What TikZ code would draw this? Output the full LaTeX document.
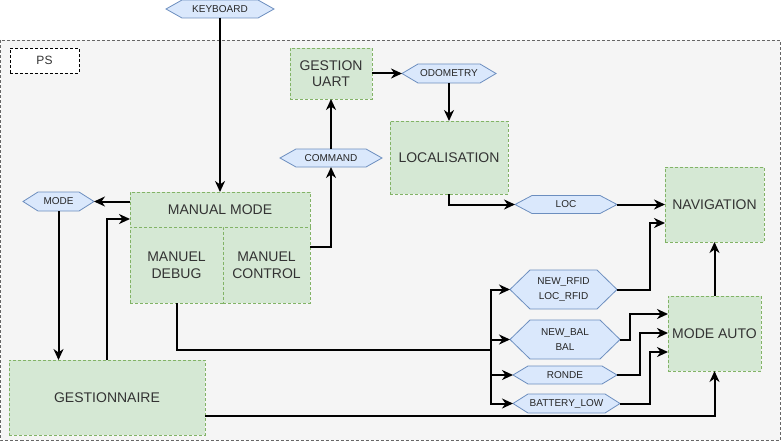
\documentclass[tikz,border=0pt]{standalone}
\usepackage{fontspec}
\setmainfont{Liberation Sans}
\usetikzlibrary{arrows.meta}
\definecolor{gfill}{HTML}{D5E8D4}
\definecolor{gdraw}{HTML}{82B366}
\definecolor{bfill}{HTML}{DAE8FC}
\definecolor{bdraw}{HTML}{6C8EBF}
\definecolor{cfill}{HTML}{F5F5F5}
\definecolor{cdraw}{HTML}{666666}
\definecolor{txt}{HTML}{333333}
\tikzset{
  container/.style={fill=cfill,draw=cdraw,line width=0.8pt,dash pattern=on 3pt off 2pt},
  pslabel/.style={draw=black,fill=white,line width=0.8pt,dash pattern=on 3pt off 2pt,inner sep=0pt,outer sep=0pt,font=\fontsize{12}{14}\selectfont,text=txt},
  gbox/.style={fill=gfill,draw=gdraw,line width=0.8pt,dash pattern=on 3pt off 2pt,inner sep=0pt,outer sep=0pt,align=center,font=\fontsize{14}{16.5}\selectfont,text=txt},
  hexshape/.style={fill=bfill,draw=bdraw,line width=0.8pt},
  hextext/.style={inner sep=0pt,outer sep=0pt,align=center,font=\fontsize{10}{15}\selectfont,text=black!85},
  arr/.style={line width=2pt,-{Stealth[length=11pt,width=10pt,inset=3.5pt]}},
}
\newcommand{\hexnode}[7]{%
  \path[hexshape] ({#2-#4/2},#3) -- ({#2-#4/2+#6},{#3-#5/2}) -- ({#2+#4/2-#6},{#3-#5/2})
    -- ({#2+#4/2},#3) -- ({#2+#4/2-#6},{#3+#5/2}) -- ({#2-#4/2+#6},{#3+#5/2}) -- cycle;
  \node[hextext,minimum width=#4,minimum height=#5] (#1) at (#2,#3) {#7};}
\begin{document}
\begin{tikzpicture}[x=1pt,y=-1pt]
\useasboundingbox (0,0) rectangle (781,441);
% container
\path[container] (0.5,40) rectangle (780,440);
\node[pslabel,minimum width=69,minimum height=25] (ps) at (44.5,60.5) {PS};
% green boxes
\node[gbox,minimum width=82,minimum height=51] (uart) at (331,73.5) {GESTION\\UART};
\node[gbox,minimum width=118,minimum height=73] (loc) at (449,157.5) {LOCALISATION};
\node[gbox,minimum width=99,minimum height=75] (nav) at (714.5,204.5) {NAVIGATION};
\node[gbox,minimum width=180,minimum height=35] (mm) at (220,209.5) {MANUAL MODE};
\node[gbox,minimum width=93,minimum height=76] (debug) at (176.5,265) {MANUEL\\DEBUG};
\node[gbox,minimum width=87,minimum height=76] (control) at (266.5,265) {MANUEL\\CONTROL};
\node[gbox,minimum width=196,minimum height=75] (gest) at (107,397.5) {GESTIONNAIRE};
\node[gbox,minimum width=93,minimum height=75] (auto) at (714.5,333.5) {MODE AUTO};
% hexagons
\hexnode{kb}{220}{9}{108}{18}{16}{KEYBOARD}
\hexnode{cmd}{331}{158}{102}{18}{16}{COMMAND}
\hexnode{odo}{449}{73.5}{94}{19}{16}{ODOMETRY}
\hexnode{mode}{58.5}{201.5}{71}{19}{15}{MODE}
\hexnode{lochex}{566}{204.5}{102}{18}{17}{LOC}
\hexnode{rfid}{563.5}{289.5}{107}{39}{20}{NEW\_RFID\\LOC\_RFID}
\hexnode{bal}{565}{339.5}{110}{39}{20}{NEW\_BAL\\BAL}
\hexnode{ronde}{565}{375}{104}{18}{15}{RONDE}
\hexnode{batt}{566.5}{403.5}{107}{19}{15}{BATTERY\_LOW}
% junction points
\coordinate (bus) at (491,350);
% connectors
\draw[arr] (kb.south) -- (mm.north);
\draw[arr] (mm.west |- mode.east) -- (mode.east);
\draw[arr] (mode.south) -- (mode.south |- gest.north);
\draw[arr] (gest.north) |- (mm.west |- 0,219);
\draw[arr] (control.east |- 0,247) -| (cmd.south);
\draw[arr] (cmd.north) -- (uart.south);
\draw[arr] (uart.east) -- (odo.west);
\draw[arr] (odo.south) -- (loc.north);
\draw[arr] (loc.south) |- (lochex.west);
\draw[arr] (lochex.east) -- (nav.west |- lochex.east);
\draw[arr] (debug.south) |- (bus) |- (rfid.west);
\draw[arr] (debug.south) |- (bus) |- (bal.west);
\draw[arr] (debug.south) |- (bus) |- (ronde.west);
\draw[arr] (debug.south) |- (bus) |- (batt.west);
\draw[arr] (rfid.east) -| (650,223) -- (nav.west |- 0,223);
\draw[arr] (bal.east) -| (630,314) -- (auto.west |- 0,314);
\draw[arr] (ronde.east) -| (640,333) -- (auto.west |- 0,333);
\draw[arr] (batt.east) -| (650,352) -- (auto.west |- 0,352);
\draw[arr] (auto.north) -- (nav.south);
\draw[arr] (gest.east |- 0,416) -| (auto.south);
\end{tikzpicture}
\end{document}
